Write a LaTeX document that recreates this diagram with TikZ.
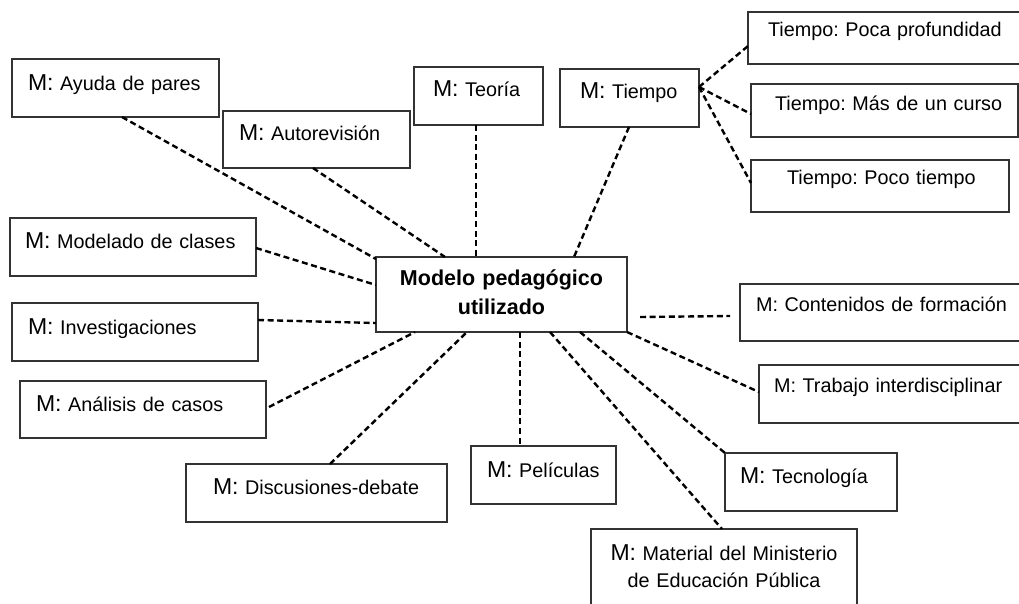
\documentclass[tikz,border=0pt]{standalone}
\usepackage{fontspec}
\setmainfont{Liberation Sans}
\frenchspacing
\newcommand{\Mbig}{{\fontsize{23}{27}\selectfont M:}}
\begin{document}
\begin{tikzpicture}[x=1pt,y=-1pt,
  box/.style={draw=black!80, line width=1.1pt, rectangle, inner ysep=0pt, outer sep=0pt,
    anchor=north west, align=left, font=\fontsize{19.8}{24}\selectfont},
  dl/.style={draw=black, line width=2.4pt, dash pattern=on 6pt off 3.6pt}]
\useasboundingbox (0,0) rectangle (1019,603);
\fill[white] (0,0) rectangle (1019,603);

\node[box, text width=175pt, inner xsep=16pt, text height=31pt, text depth=27pt] (ayuda) at (12,59) {\mbox{\Mbig{} Ayuda de pares}};
\node[box, text width=155pt, inner xsep=16pt, text height=29pt, text depth=28pt] (autorev) at (223,111) {\mbox{\Mbig{} Autorevisión}};
\node[box, text width=91pt, inner xsep=19pt, text height=29pt, text depth=29pt] (teoria) at (414,67) {\mbox{\Mbig{} Teoría}};
\node[box, text width=99pt, inner xsep=20pt, text height=29pt, text depth=29pt] (tiempo) at (560,69) {\mbox{\Mbig{} Tiempo}};
\node[box, text width=260pt, inner xsep=20pt, text height=24pt, text depth=28pt] (poca) at (748,12) {\mbox{Tiempo: Poca profundidad}};
\node[box, text width=219pt, inner xsep=24pt, text height=26pt, text depth=27pt] (mas) at (751,84) {\mbox{Tiempo: Más de un curso}};
\node[box, text width=186pt, inner xsep=36pt, text height=24pt, text depth=28pt] (poco) at (751,160) {\mbox{Tiempo: Poco tiempo}};
\node[box, text width=216pt, inner xsep=15pt, text height=30pt, text depth=28pt] (modelado) at (10,218) {\mbox{\Mbig{} Modelado de clases}};
\node[box, text width=214pt, inner xsep=16pt, text height=31pt, text depth=27pt] (inv) at (12,303) {\mbox{\Mbig{} Investigaciones}};
\node[box, text width=214pt, inner xsep=16pt, text height=30pt, text depth=27pt] (anal) at (20,381) {\mbox{\Mbig{} Análisis de casos}};
\node[box, text width=207pt, inner xsep=27pt, text height=30pt, text depth=28pt] (disc) at (186,464) {\mbox{\Mbig{} Discusiones-debate}};
\node[box, text width=113pt, inner xsep=16pt, text height=31pt, text depth=27pt] (pel) at (471,446) {\mbox{\Mbig{} Películas}};
\node[box, text width=268pt, inner xsep=16pt, text height=27pt, text depth=30pt] (cont) at (740,284) {\mbox{M: Contenidos de formación}};
\node[box, text width=270pt, inner xsep=15pt, text height=27pt, text depth=31pt] (trab) at (759,365) {\mbox{M: Trabajo interdisciplinar}};
\node[box, text width=142pt, inner xsep=15pt, text height=30pt, text depth=28pt] (tec) at (725,453) {\mbox{\Mbig{} Tecnología}};
\node[box, text width=266pt, inner xsep=0pt, text height=31pt, text depth=69pt, align=center, font=\fontsize{19.8}{27.5}\selectfont] (mat) at (591,529) {\Mbig{} Material del Ministerio\\de Educación Pública};
\node[box, text width=251pt, inner xsep=0pt, text height=28.5pt, text depth=46.5pt, align=center, font=\bfseries\fontsize{21.5}{28.5}\selectfont] (cen) at (376,257) {Modelo pedagógico\\utilizado};

\draw[dl] ([xshift=110pt]ayuda.south west) -- ([yshift=-2pt]cen.north west);
\draw[dl] ([xshift=90pt]autorev.south west) -- ([xshift=69pt]cen.north west);
\draw[dl] ([xshift=62pt]teoria.south west) -- ([xshift=100pt]cen.north west);
\draw[dl] ([xshift=69pt]tiempo.south west) -- ([xshift=198pt]cen.north west);
\draw[dl] ([yshift=-18pt]tiempo.north east) -- ([yshift=-34pt]poca.north west);
\draw[dl] ([yshift=-18pt]tiempo.north east) -- ([yshift=-30pt]mas.north west);
\draw[dl] ([yshift=-18pt]tiempo.north east) -- ([yshift=-23pt]poco.north west);
\draw[dl] ([yshift=-30pt]modelado.north east) -- ([yshift=-28pt]cen.north west);
\draw[dl] ([yshift=-17pt]inv.north east) -- ([yshift=9pt]cen.south west);
\draw[dl] ([xshift=3pt,yshift=-26pt]anal.north east) -- ([xshift=39pt]cen.south west);
\draw[dl] ([xshift=144pt]disc.north west) -- ([xshift=91pt]cen.south west);
\draw[dl] ([xshift=144pt]cen.south west) -- ([xshift=49pt]pel.north west);
\draw[dl] ([xshift=174pt]cen.south west) -- ([xshift=131pt]mat.north west);
\draw[dl] ([xshift=204pt]cen.south west) -- (tec.north west);
\draw[dl] (cen.south east) -- ([yshift=-27pt]trab.north west);
\draw[dl] ([xshift=13pt,yshift=15pt]cen.south east) -- ([xshift=-10pt,yshift=-32pt]cont.north west);
\end{tikzpicture}
\end{document}
